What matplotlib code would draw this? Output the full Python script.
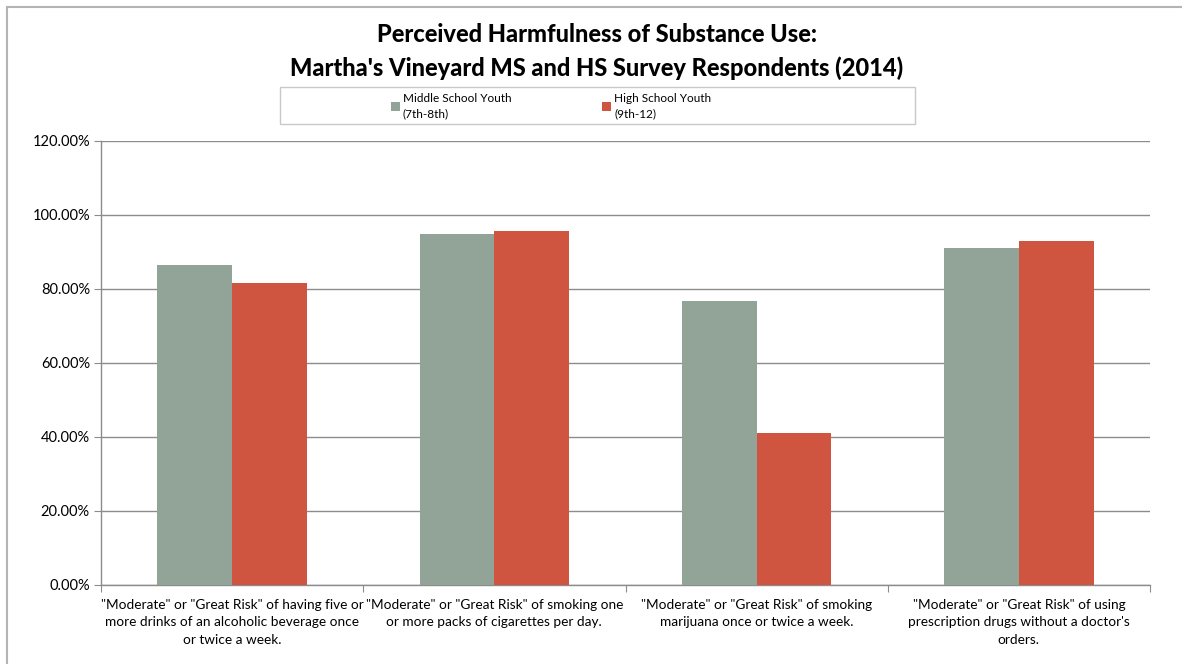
import matplotlib
matplotlib.use("Agg")
import matplotlib.pyplot as plt
from matplotlib.patches import Rectangle, Patch
from matplotlib.ticker import FuncFormatter, MultipleLocator
import numpy as np

plt.rcParams['font.family'] = ['Lato', 'DejaVu Sans']

categories = [
    '"Moderate" or "Great Risk" of having five or\nmore drinks of an alcoholic beverage once\nor twice a week.',
    '"Moderate" or "Great Risk" of smoking one\nor more packs of cigarettes per day.',
    '"Moderate" or "Great Risk" of smoking\nmarijuana once or twice a week.',
    '"Moderate" or "Great Risk" of using\nprescription drugs without a doctor\'s\norders.',
]
middle_school = [86.5, 94.9, 76.7, 91.1]
high_school = [81.6, 95.7, 41.1, 93.0]
series_labels = ['Middle School Youth\n(7th-8th)', 'High School Youth\n(9th-12)']
series_colors = ['#92a398', '#cf5540']

W, H = 1182, 664
fig = plt.figure(figsize=(W / 100, H / 100), dpi=100)

# outer chart frame
fig.add_artist(Rectangle((7 / W, -0.1), 1.2, (H - 7) / H + 0.1, transform=fig.transFigure,
                         fill=False, edgecolor='#b4b4b4', linewidth=1.5))

ax = fig.add_axes([101 / W, 1 - 585 / H, (1150 - 101) / W, (585 - 141) / H])

x = np.arange(len(categories))
bw = 0.285
ax.bar(x - bw / 2, middle_school, bw, color=series_colors[0], label=series_labels[0], zorder=3)
ax.bar(x + bw / 2, high_school, bw, color=series_colors[1], label=series_labels[1], zorder=3)

ax.set_xlim(-0.5, len(categories) - 0.5)
ax.set_ylim(0, 120)
ax.yaxis.set_major_locator(MultipleLocator(20))
ax.yaxis.set_major_formatter(FuncFormatter(lambda v, p: f'{v:.2f}%'))
ax.grid(axis='y', color='#8c8c8c', linewidth=1.0, zorder=0)
ax.set_axisbelow(True)

for s in ['top', 'right']:
    ax.spines[s].set_visible(False)
for s in ['left', 'bottom']:
    ax.spines[s].set_color('#8c8c8c')
    ax.spines[s].set_linewidth(1.0)

# category separators as tick marks, names centred on each group
ax.set_xticks(np.arange(-0.5, len(categories)), minor=False)
ax.set_xticklabels([])
ax.set_xticks(x, minor=True)
ax.set_xticklabels(categories, minor=True, fontsize=9.8, linespacing=1.55)
ax.tick_params(axis='x', which='major', length=5, color='#8c8c8c', direction='out')
ax.tick_params(axis='x', which='minor', length=0, pad=10)
ax.tick_params(axis='y', length=5, color='#8c8c8c', labelsize=10.5, pad=3)

fig.text(597 / W, 1 - 34 / H, 'Perceived Harmfulness of Substance Use:',
         ha='center', va='center', fontsize=17, fontweight='black')
fig.text(597 / W, 1 - 68 / H, "Martha's Vineyard MS and HS Survey Respondents (2014)",
         ha='center', va='center', fontsize=17, fontweight='black')

# legend box
fig.add_artist(Rectangle((280 / W, 1 - 124 / H), (915 - 280) / W, (124 - 87) / H,
                         transform=fig.transFigure, fill=False, edgecolor='#c8c8c8', linewidth=1.0))
handles = [Patch(facecolor=c, edgecolor='none') for c in series_colors]
leg = fig.legend(handles, series_labels, loc='center left', bbox_to_anchor=(391 / W, 1 - 106 / H),
                 ncol=2, frameon=False, fontsize=8.5, handlelength=0.75, handleheight=0.75,
                 handletextpad=0.25, columnspacing=7.7, borderpad=0, borderaxespad=0)
for t in leg.get_texts():
    t.set_linespacing(1.5)

fig.savefig('out.png', dpi=100)
